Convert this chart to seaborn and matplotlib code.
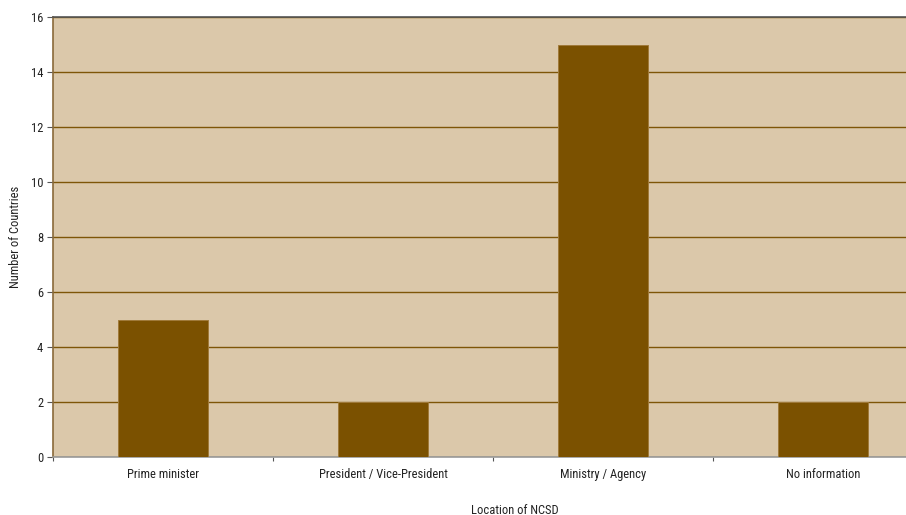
import matplotlib
matplotlib.use("Agg")
import matplotlib.pyplot as plt
from matplotlib import font_manager
import seaborn as sns
import pandas as pd
from matplotlib.ticker import FixedLocator

categories = ["Prime minister", "President / Vice-President", "Ministry / Agency", "No information"]
countries = [5, 2, 15, 2]
y_ticks = [0, 2, 4, 6, 8, 10, 12, 14, 16]

df = pd.DataFrame({"Location of NCSD": categories, "Number of Countries": countries})

sns.set_theme(style="white")

# prefer a condensed sans face when one is present
installed = {f.name for f in font_manager.fontManager.ttflist}
face, size = "Liberation Sans", 8.5
for name, sz in [("Liberation Sans Narrow", 9.5), ("Roboto Condensed", 9.0),
                 ("Open Sans Condensed", 9.0)]:
    if name in installed:
        face, size = name, sz
        break
plt.rcParams["font.family"] = [face, "DejaVu Sans"]

fig = plt.figure(figsize=(9.06, 5.15), dpi=100)
ax = fig.add_axes([53 / 906, 58 / 515, 880 / 906, 440 / 515])
ax.set_facecolor("#DBC8AA")

sns.barplot(data=df, x="Location of NCSD", y="Number of Countries", color="#7B5100",
            width=0.41, saturation=1, edgecolor="#A07A3A", linewidth=0.7, ax=ax, zorder=3)

ax.set_ylim(0, 16)
ax.set_xlim(-0.5, 3.5)
ax.set_yticks(y_ticks)
ax.yaxis.grid(True, color="#7E5608", linewidth=1.0, zorder=1)
ax.set_axisbelow(True)

ax.tick_params(axis="x", which="major", length=0, pad=8, labelsize=size, labelcolor="#222222")
ax.xaxis.set_minor_locator(FixedLocator([-0.5, 0.5, 1.5, 2.5]))
ax.tick_params(axis="x", which="minor", length=3, width=0.8, color="#555555", bottom=True)
ax.tick_params(axis="y", length=4, width=0.8, color="#555555", left=True, labelsize=size,
               labelcolor="#222222", pad=3)

ax.set_xlabel("Location of NCSD", fontsize=size, color="#222222")
ax.set_ylabel("Number of Countries", fontsize=size, color="#222222")
ax.xaxis.set_label_coords((515 - 53) / 880, -(510 - 457) / 440)
ax.xaxis.label.set_va("center")
ax.yaxis.set_label_coords(-(53 - 16) / 880, 0.5)
ax.yaxis.label.set_va("center")

ax.spines["top"].set_color("#555555")
ax.spines["top"].set_linewidth(1.2)
ax.spines["bottom"].set_color("#999999")
ax.spines["bottom"].set_linewidth(1.2)
ax.spines["left"].set_color("#8A6A3A")
ax.spines["left"].set_linewidth(1.2)
ax.spines["right"].set_visible(False)

fig.savefig("out.png", dpi=100, facecolor="white")
